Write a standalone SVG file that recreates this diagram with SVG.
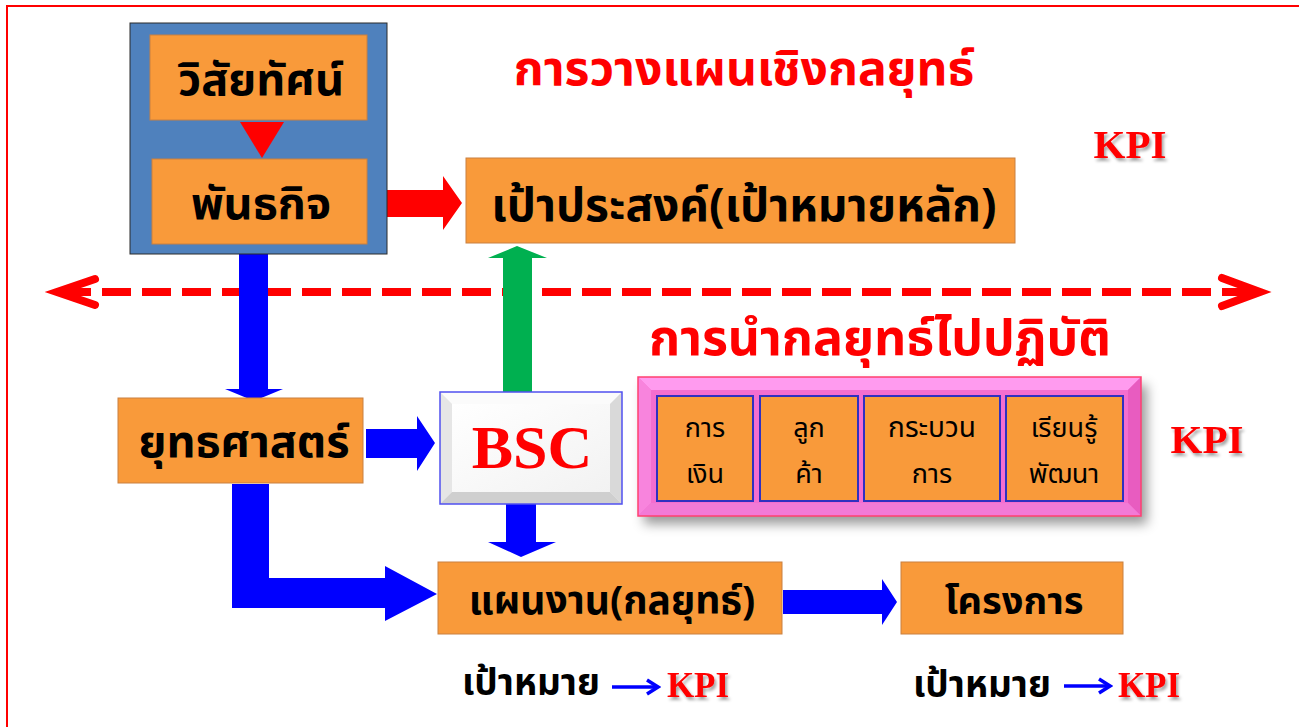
<svg xmlns="http://www.w3.org/2000/svg" width="1299" height="727" viewBox="0 0 1299 727">
<style>
.th{font-family:"Noto Sans Thai","Noto Serif Thai","Noto Sans","DejaVu Sans",sans-serif;font-weight:bold;fill:#000;text-anchor:middle}
.red{fill:#FF0000}
.kpi{font-family:"Liberation Serif",serif;font-weight:bold;fill:#FF0000;text-anchor:middle;filter:url(#ts)}
.org{fill:#F99A3A;stroke:#C98040;stroke-width:1}
.sm{font-weight:normal}
</style>
<defs>
<filter id="ts" x="-20%" y="-20%" width="150%" height="160%"><feDropShadow dx="2" dy="3" stdDeviation="1.5" flood-color="#000" flood-opacity="0.35"/></filter>
<filter id="bs" x="-10%" y="-10%" width="130%" height="140%"><feDropShadow dx="6" dy="8" stdDeviation="6" flood-color="#000" flood-opacity="0.4"/></filter>
<linearGradient id="bscf" x1="0" y1="0" x2="1" y2="1"><stop offset="0" stop-color="#FFFFFF"/><stop offset="1" stop-color="#F2F2F2"/></linearGradient>
<marker id="ah" markerWidth="16" markerHeight="18" refX="13" refY="9" orient="auto" markerUnits="userSpaceOnUse"><path d="M2,2 L13,9 L2,16" fill="none" stroke="#0000FF" stroke-width="3.5"/></marker>
</defs>
<rect width="1299" height="727" fill="#FFFFFF"/>
<rect x="7" y="6" width="1310" height="740" fill="none" stroke="#FF0000" stroke-width="2"/>

<g id="connectors">
  <line x1="62" y1="292" x2="1254" y2="292" stroke="#FF0000" stroke-width="8" stroke-dasharray="29 11"/>
  <polyline points="95,279 57,292 95,305" fill="none" stroke="#FF0000" stroke-width="8" stroke-linecap="round" stroke-linejoin="miter"/>
  <polyline points="1222,278 1260,292 1222,306" fill="none" stroke="#FF0000" stroke-width="8" stroke-linecap="round" stroke-linejoin="miter"/>
  <polygon points="366,190 443,190 443,176 462,203 443,230 443,217 366,217" fill="#FF0000"/>
  <polygon points="239,254 268,254 268,389 283,389 254,401 225,389 239,389" fill="#0000FF"/>
  <polygon points="503,392 532,392 532,258 547,258 517,246 488,258 503,258" fill="#00B050"/>
  <polygon points="366,429 417,429 417,416 435,443 417,471 417,458 366,458" fill="#0000FF"/>
  <polygon points="506,504 536,504 536,542 556,542 521,557 488,542 506,542" fill="#0000FF"/>
  <polygon points="232,484 269,484 269,578 385,578 385,566 437,594 385,621 385,608 232,608" fill="#0000FF"/>
  <polygon points="783,590 882,590 882,579 897,602 882,625 882,614 783,614" fill="#0000FF"/>
  <line x1="612" y1="687" x2="658" y2="687" stroke="#0000FF" stroke-width="3.5" marker-end="url(#ah)"/>
  <line x1="1064" y1="686" x2="1110" y2="686" stroke="#0000FF" stroke-width="3.5" marker-end="url(#ah)"/>
</g>

<g id="vision-mission-frame">
  <rect x="130" y="23" width="257" height="231" fill="#4F81BD" stroke="#2B2B2B" stroke-width="1"/>
  <polygon points="240,122 284,122 262,158" fill="#FF0000"/>
</g>
<g id="vision">
  <rect class="org" x="150" y="35" width="217" height="85"/>
  <text class="th" x="261" y="95" font-size="45">วิสัยทัศน์</text>
</g>
<g id="mission">
  <rect class="org" x="152" y="159" width="215" height="85"/>
  <text class="th" x="261" y="219" font-size="45">พันธกิจ</text>
</g>

<g id="title-planning">
  <text class="th red" x="744" y="85" font-size="48">การวางแผนเชิงกลยุทธ์</text>
</g>
<g id="kpi-top">
  <text class="kpi" x="1130" y="158" font-size="41">KPI</text>
</g>
<g id="goal">
  <rect class="org" x="466" y="158" width="549" height="85"/>
  <text class="th" x="744" y="221" font-size="46">เป้าประสงค์(เป้าหมายหลัก)</text>
</g>

<g id="title-implement">
  <text class="th red" x="880" y="355" font-size="50">การนำกลยุทธ์ไปปฏิบัติ</text>
</g>

<g id="strategy">
  <rect class="org" x="118" y="398" width="245" height="85"/>
  <text class="th" x="244" y="457" font-size="45">ยุทธศาสตร์</text>
</g>

<g id="bsc">
  <rect x="440" y="392" width="182" height="112" fill="#F4F4F4"/>
  <polygon points="440,392 622,392 610,404 452,404" fill="#FBFBFB"/>
  <polygon points="440,392 452,404 452,492 440,504" fill="#E6E6E6"/>
  <polygon points="622,392 622,504 610,492 610,404" fill="#D9D9D9"/>
  <polygon points="440,504 622,504 610,492 452,492" fill="#CFCFCF"/>
  <rect x="452" y="404" width="158" height="88" fill="url(#bscf)"/>
  <rect x="440" y="392" width="182" height="112" fill="none" stroke="#5050F0" stroke-width="1.5"/>
  <text x="532" y="468" font-family="Liberation Serif,serif" font-weight="bold" font-size="62" fill="#FF0000" text-anchor="middle">BSC</text>
</g>

<g id="perspectives">
  <g filter="url(#bs)">
    <rect x="638" y="377" width="503" height="139" fill="#F46ECF"/>
  </g>
  <polygon points="638,377 1141,377 1128,390 651,390" fill="#FF9BEF"/>
  <polygon points="638,377 651,390 651,503 638,516" fill="#F884DD"/>
  <polygon points="1141,377 1141,516 1128,503 1128,390" fill="#E85CC0"/>
  <polygon points="638,516 1141,516 1128,503 651,503" fill="#F27AD6"/>
  <rect x="638" y="377" width="503" height="139" fill="none" stroke="#FF4070" stroke-width="1.5"/>
  <g id="p-finance">
    <rect x="657" y="396" width="96" height="105" fill="#F99A3A" stroke="#3030C0" stroke-width="2"/>
    <text class="th sm" x="705" y="437" font-size="27">การ</text>
    <text class="th sm" x="705" y="483" font-size="27">เงิน</text>
  </g>
  <g id="p-customer">
    <rect x="760" y="396" width="98" height="105" fill="#F99A3A" stroke="#3030C0" stroke-width="2"/>
    <text class="th sm" x="809" y="437" font-size="27">ลูก</text>
    <text class="th sm" x="809" y="483" font-size="27">ค้า</text>
  </g>
  <g id="p-process">
    <rect x="864" y="396" width="136" height="105" fill="#F99A3A" stroke="#3030C0" stroke-width="2"/>
    <text class="th sm" x="932" y="437" font-size="28">กระบวน</text>
    <text class="th sm" x="932" y="483" font-size="27">การ</text>
  </g>
  <g id="p-learning">
    <rect x="1006" y="396" width="117" height="105" fill="#F99A3A" stroke="#3030C0" stroke-width="2"/>
    <text class="th sm" x="1064" y="437" font-size="27">เรียนรู้</text>
    <text class="th sm" x="1064" y="483" font-size="27">พัฒนา</text>
  </g>
</g>
<g id="kpi-mid">
  <text class="kpi" x="1207" y="453" font-size="41">KPI</text>
</g>

<g id="plan">
  <rect class="org" x="438" y="562" width="344" height="72"/>
  <text class="th" x="612" y="614" font-size="39">แผนงาน(กลยุทธ์)</text>
</g>
<g id="project">
  <rect class="org" x="901" y="562" width="222" height="72"/>
  <text class="th" x="1014" y="614" font-size="38">โครงการ</text>
</g>

<g id="label-plan">
  <text class="th" x="531" y="695" font-size="37">เป้าหมาย</text>
  <text class="kpi" x="698" y="697" font-size="35">KPI</text>
</g>
<g id="label-project">
  <text class="th" x="982" y="697" font-size="37">เป้าหมาย</text>
  <text class="kpi" x="1149" y="697" font-size="35">KPI</text>
</g>
</svg>
